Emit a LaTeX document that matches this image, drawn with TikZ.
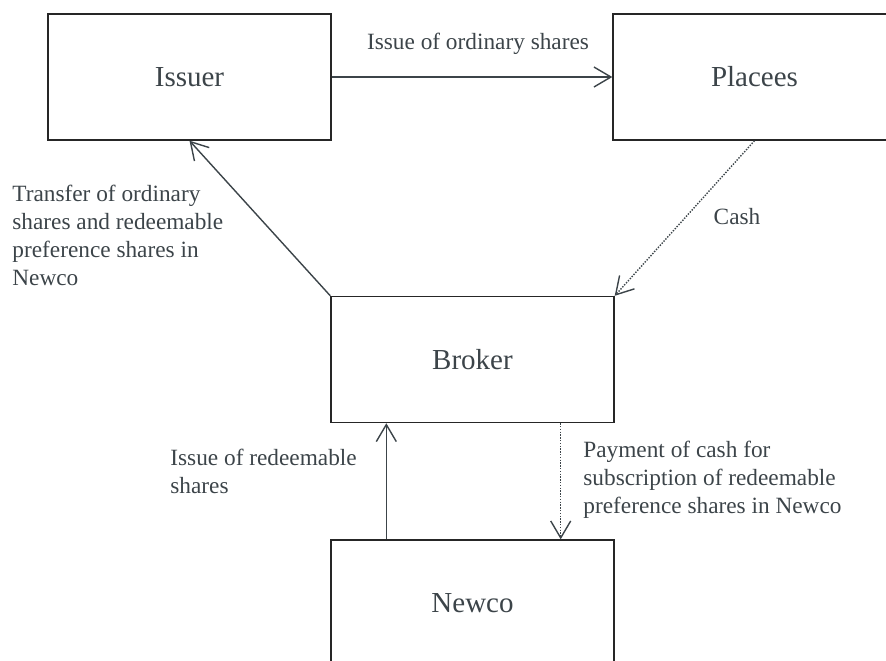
\documentclass[tikz,border=0pt]{standalone}
\usepackage{color}
\usepackage{fontspec}
\setmainfont{Liberation Serif}
\usetikzlibrary{arrows.meta}
\definecolor{inkgrey}{HTML}{3C4449}

\begin{document}
\begin{tikzpicture}[x=0.5pt, y=-0.5pt]
		\tikzstyle{party}=[draw=black!85, line width=0.7pt, minimum width=141.5pt, minimum height=63pt, inner sep=0pt, text=inkgrey, font=\fontsize{14.5}{17}\selectfont];
		\tikzstyle{flow}=[draw=inkgrey, line width=0.7pt, -{Straight Barb[length=8.5pt, width=10pt]}];
		\tikzstyle{cash}=[flow, dash pattern=on 0.7pt off 0.7pt];
		\tikzstyle{note}=[text=inkgrey, align=left, inner sep=0pt, font=\fontsize{11.65}{14}\selectfont];

		\path[use as bounding box] (0,0) rectangle (886,660);
		\clip (0,0) rectangle (886,660);

		\node[party] (issuer) at (189.5,77) {Issuer};
		\node[party] (placees) at (754.5,77) {Placees};
		\node[party] (broker) at (472.5,359.5) {Broker};
		\node[party] (newco) at (472.5,603) {Newco};

		\draw[flow] (issuer) -- (placees);
		\draw[flow] (broker.north west) -- (issuer.south);
		\draw[cash] (placees.south) -- (broker.north east);
		\draw[flow] ([xshift=28pt]newco.north west) -- ([xshift=28pt]broker.south west);
		\draw[cash] ([xshift=-27pt]broker.south east) -- ([xshift=-27pt]newco.north east);

		\node[note] (ordinary) at (478,44) {Issue of ordinary shares};
		\node[note, anchor=west] (transfer) at (12,235) {Transfer of ordinary\\shares and redeemable\\preference shares in\\Newco};
		\node[note] (cashnote) at (737,217) {Cash};
		\node[note, anchor=west] (redeem) at (170,471.5) {Issue of redeemable\\shares};
		\node[note, anchor=west] (payment) at (583,479.5) {Payment of cash for\\subscription of redeemable\\preference shares in Newco};
	\end{tikzpicture}
\end{document}
